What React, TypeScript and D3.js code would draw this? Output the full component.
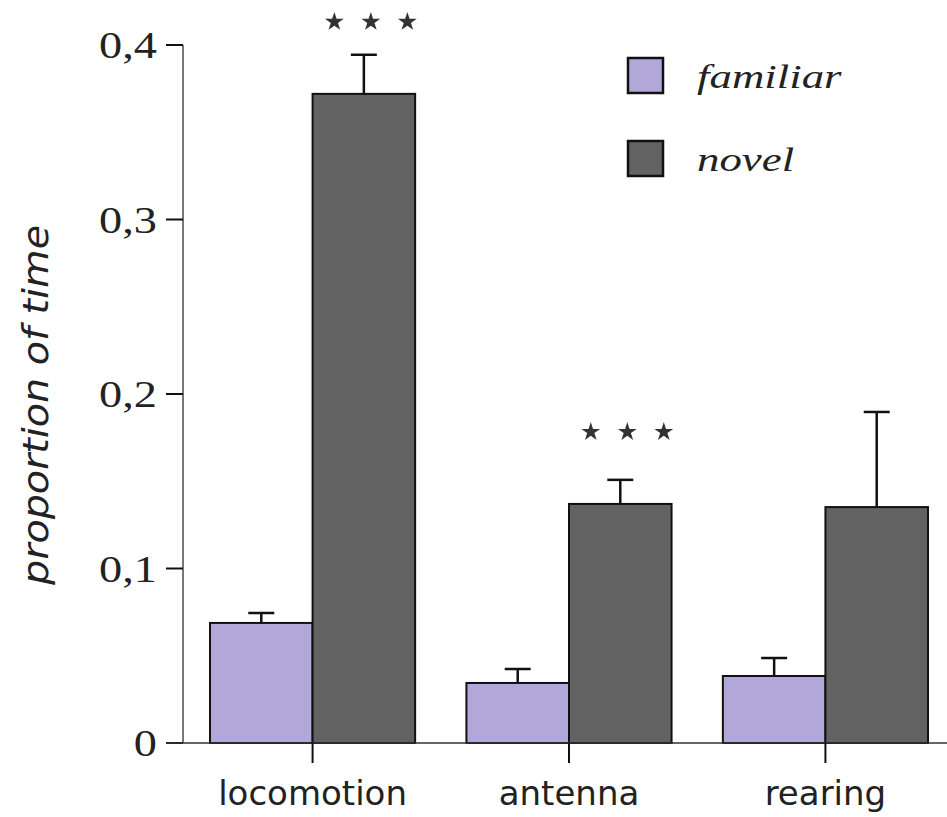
import * as d3 from "d3";

const categories = ["locomotion", "antenna", "rearing"];
const seriesNames = ["familiar", "novel"];
const familiarMean = [0.0688, 0.0344, 0.0384];
const familiarErr = [0.0057, 0.008, 0.0103];
const novelMean = [0.372, 0.137, 0.1352];
const novelErr = [0.0224, 0.0138, 0.0545];
const significance = ["***", "***", ""];
const yTicks = [0, 0.1, 0.2, 0.3, 0.4];
const yTickLabels = ["0", "0,1", "0,2", "0,3", "0,4"];

const colors: Record<string, string> = { familiar: "#b1a8d9", novel: "#626262" };
const serif = "'Liberation Serif', 'Times New Roman', Times, serif";

export default function App() {
    const width = 947;
    const height = 817;

    const y = d3.scaleLinear().domain([0, 0.4]).range([743, 45]);
    const x = d3.scaleBand<string>()
        .domain(categories)
        .range([210, 928])
        .paddingInner(0.2)
        .paddingOuter(0);
    const sub = d3.scaleBand<string>()
        .domain(seriesNames)
        .range([0, x.bandwidth()])
        .padding(0);

    const means: Record<string, number[]> = { familiar: familiarMean, novel: novelMean };
    const errs: Record<string, number[]> = { familiar: familiarErr, novel: novelErr };

    const star = d3.symbol().type(d3.symbolStar).size(110)()!;
    const axisX = 183;

    return (
        <svg
            width={width}
            height={height}
            style={{ position: "absolute", left: 0, top: 0, background: "#fff" }}
        >
            {/* y axis */}
            <line x1={axisX} x2={axisX} y1={y(0.4)} y2={y(0)} stroke="#555" strokeWidth={1.6} />
            {yTicks.map((t, i) => (
                <g key={t}>
                    <line x1={166} x2={axisX} y1={y(t)} y2={y(t)} stroke="#111" strokeWidth={2} />
                    <g transform={`translate(157,${y(t)}) scale(1.22,1)`}>
                        <text
                            x={0}
                            y={0}
                            dy="0.35em"
                            textAnchor="end"
                            fontFamily={serif}
                            fontSize={38}
                            fill="#222"
                        >
                            {yTickLabels[i]}
                        </text>
                    </g>
                </g>
            ))}
            <text
                transform={`translate(48,${(225 + 585) / 2}) rotate(-90)`}
                textAnchor="middle"
                fontFamily="'DejaVu Sans', sans-serif"
                fontStyle="italic"
                fontSize={36}
                textLength={360}
                lengthAdjust="spacingAndGlyphs"
                fill="#222"
            >
                proportion of time
            </text>

            {/* bars */}
            {categories.map((c, i) => (
                <g key={c} transform={`translate(${x(c)},0)`}>
                    {seriesNames.map((s) => {
                        const m = means[s][i];
                        const e = errs[s][i];
                        const bx = sub(s)!;
                        const bw = sub.bandwidth();
                        const cx = bx + bw / 2;
                        return (
                            <g key={s}>
                                <rect
                                    x={bx}
                                    y={y(m)}
                                    width={bw}
                                    height={y(0) - y(m)}
                                    fill={colors[s]}
                                    stroke="#111"
                                    strokeWidth={2}
                                />
                                <line x1={cx} x2={cx} y1={y(m)} y2={y(m + e)} stroke="#111" strokeWidth={2.5} />
                                <line x1={cx - 13} x2={cx + 13} y1={y(m + e)} y2={y(m + e)} stroke="#111" strokeWidth={2.5} />
                            </g>
                        );
                    })}
                    {significance[i] &&
                        significance[i].split("").map((_, k) => (
                            <path
                                key={k}
                                d={star}
                                fill="#333"
                                transform={`translate(${sub("novel")! + sub.bandwidth() / 2 + 7 + (k - 1) * 36.5},${
                                    y(novelMean[i]) - 72
                                })`}
                            />
                        ))}
                </g>
            ))}

            {/* x axis */}
            <line x1={166} x2={947} y1={y(0)} y2={y(0)} stroke="#333" strokeWidth={1.6} />
            {categories.map((c) => {
                const cx = x(c)! + x.bandwidth() / 2;
                return (
                    <g key={c}>
                        <line x1={cx} x2={cx} y1={y(0)} y2={y(0) + 20} stroke="#111" strokeWidth={2} />
                        <text
                            x={cx}
                            y={805}
                            textAnchor="middle"
                            fontFamily="'DejaVu Sans', sans-serif"
                            fontSize={34}
                            fill="#222"
                        >
                            {c}
                        </text>
                    </g>
                );
            })}

            {/* legend */}
            {seriesNames.map((s, i) => (
                <g key={s} transform={`translate(628,${58 + i * 83})`}>
                    <rect x={0} y={0} width={35} height={35} fill={colors[s]} stroke="#111" strokeWidth={2.5} />
                    <g transform={`translate(69,30) scale(1.32,1)`}>
                        <text
                            x={0}
                            y={0}
                            fontFamily={serif}
                            fontStyle="italic"
                            fontSize={34}
                            fill="#222"
                        >
                            {s}
                        </text>
                    </g>
                </g>
            ))}
        </svg>
    );
}
